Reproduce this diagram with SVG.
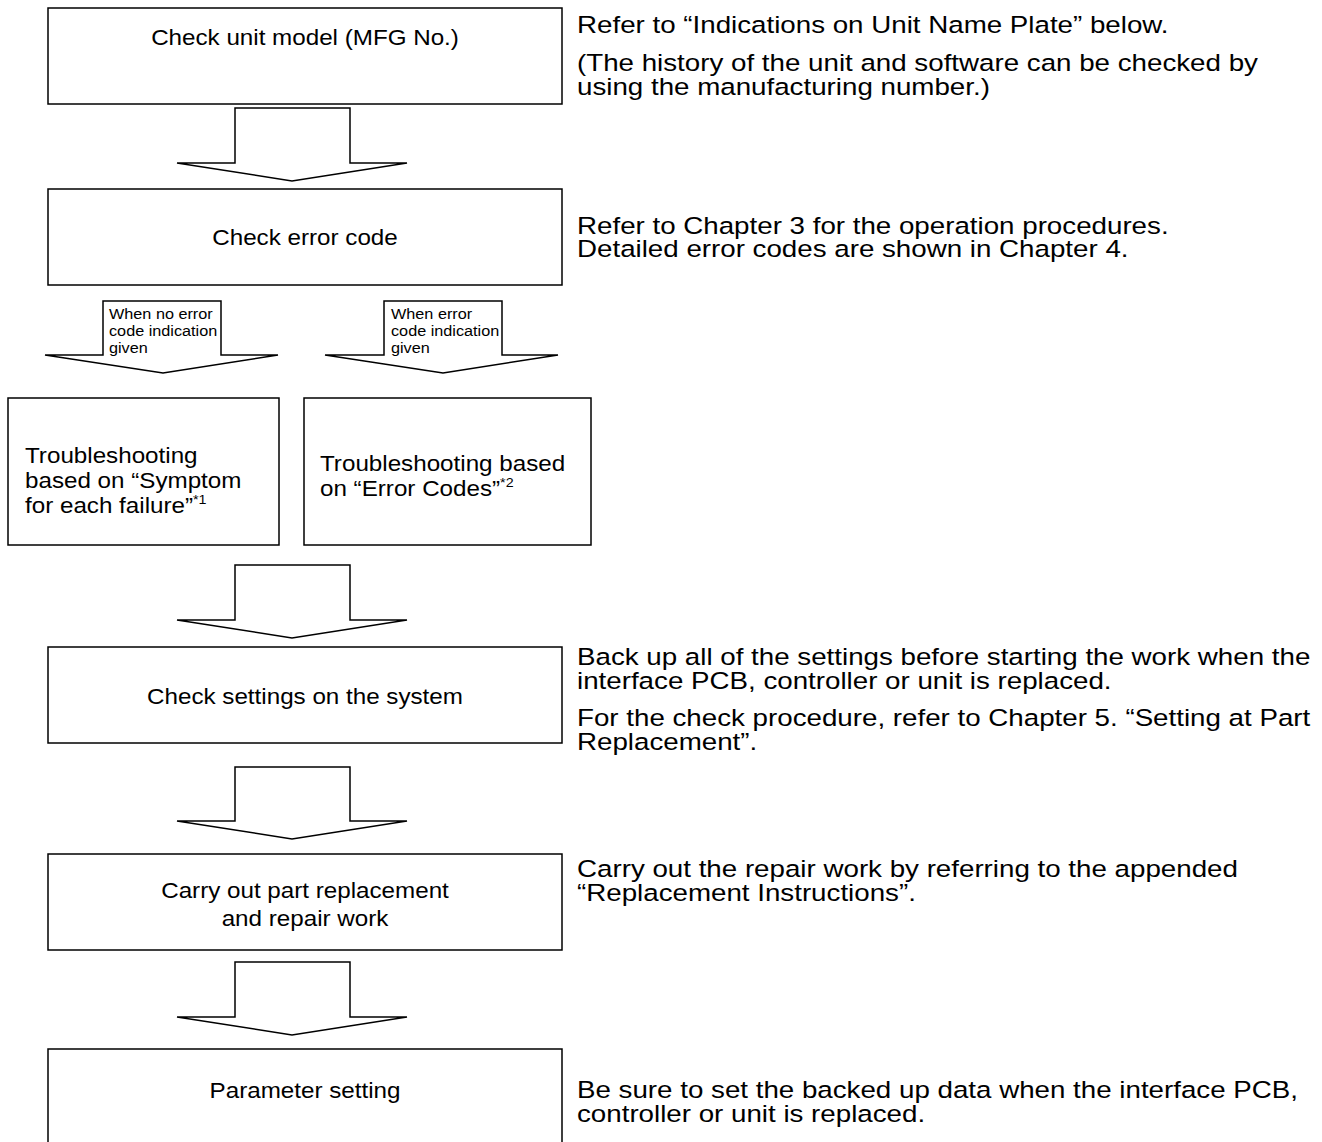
<svg xmlns="http://www.w3.org/2000/svg" width="1322" height="1142" viewBox="0 0 1322 1142">
<style>
.box{fill:#fff;stroke:#000;stroke-width:1.5}
.arr{fill:#fff;stroke:#000;stroke-width:1.5;stroke-linejoin:miter}
.t{font-family:"Liberation Sans",Arial,sans-serif;font-size:22px;fill:#000}
.n{font-family:"Liberation Sans",Arial,sans-serif;font-size:23.5px;fill:#000}
.c{text-anchor:middle}
.s{font-family:"Liberation Sans",Arial,sans-serif;font-size:14.5px;fill:#000}
.sup{font-size:13px}
</style>
<rect width="1322" height="1142" fill="#fff"/>
<g id="connectors">
<polygon class="arr" points="235,108 350,108 350,163 407,163 292,181 177,163 235,163"/>
<polygon class="arr" points="103,301 221,301 221,355 278,355 163,373 45,355 103,355"/>
<polygon class="arr" points="384,301 502,301 502,355 558,355 443,373 325,355 384,355"/>
<polygon class="arr" points="235,565 350,565 350,620 407,620 292,638 177,620 235,620"/>
<polygon class="arr" points="235,767 350,767 350,821 407,821 292,839 177,821 235,821"/>
<polygon class="arr" points="235,962 350,962 350,1017 407,1017 292,1035 177,1017 235,1017"/>
<text class="s" transform="translate(109,319) scale(1.12,1)">When no error</text>
<text class="s" transform="translate(109,336) scale(1.12,1)">code indication</text>
<text class="s" transform="translate(109,353) scale(1.12,1)">given</text>
<text class="s" transform="translate(391,319) scale(1.12,1)">When error</text>
<text class="s" transform="translate(391,336) scale(1.12,1)">code indication</text>
<text class="s" transform="translate(391,353) scale(1.12,1)">given</text>
</g>
<g id="n1"><rect class="box" x="48" y="8" width="514" height="96"/><text class="t c" transform="translate(305,45) scale(1.1,1)">Check unit model (MFG No.)</text></g>
<g id="n2"><rect class="box" x="48" y="189" width="514" height="96"/><text class="t c" transform="translate(305,245) scale(1.1,1)">Check error code</text></g>
<g id="n3a"><rect class="box" x="8" y="398" width="271" height="147"/>
<text class="t" transform="translate(25,463) scale(1.1,1)">Troubleshooting</text>
<text class="t" transform="translate(25,488) scale(1.1,1)">based on “Symptom</text>
<text class="t" transform="translate(25,513) scale(1.1,1)">for each failure”<tspan class="sup" dy="-9">*1</tspan></text></g>
<g id="n3b"><rect class="box" x="304" y="398" width="287" height="147"/>
<text class="t" transform="translate(320,471) scale(1.1,1)">Troubleshooting based</text>
<text class="t" transform="translate(320,496) scale(1.1,1)">on “Error Codes”<tspan class="sup" dy="-9">*2</tspan></text></g>
<g id="n4"><rect class="box" x="48" y="647" width="514" height="96"/><text class="t c" transform="translate(305,704) scale(1.1,1)">Check settings on the system</text></g>
<g id="n5"><rect class="box" x="48" y="854" width="514" height="96"/>
<text class="t c" transform="translate(305,898) scale(1.1,1)">Carry out part replacement</text>
<text class="t c" transform="translate(305,926) scale(1.1,1)">and repair work</text></g>
<g id="n6"><path class="box" d="M48,1150 V1049 H562 V1150"/><text class="t c" transform="translate(305,1098) scale(1.1,1)">Parameter setting</text></g>
<g id="notes">
<text class="n" transform="translate(577,33) scale(1.18,1)">Refer to “Indications on Unit Name Plate” below.</text>
<text class="n" transform="translate(577,71) scale(1.18,1)">(The history of the unit and software can be checked by</text>
<text class="n" transform="translate(577,95) scale(1.18,1)">using the manufacturing number.)</text>
<text class="n" transform="translate(577,234) scale(1.18,1)">Refer to Chapter 3 for the operation procedures.</text>
<text class="n" transform="translate(577,257) scale(1.18,1)">Detailed error codes are shown in Chapter 4.</text>
<text class="n" transform="translate(577,665) scale(1.18,1)">Back up all of the settings before starting the work when the</text>
<text class="n" transform="translate(577,689) scale(1.18,1)">interface PCB, controller or unit is replaced.</text>
<text class="n" transform="translate(577,726) scale(1.18,1)">For the check procedure, refer to Chapter 5. “Setting at Part</text>
<text class="n" transform="translate(577,750) scale(1.18,1)">Replacement”.</text>
<text class="n" transform="translate(577,877) scale(1.18,1)">Carry out the repair work by referring to the appended</text>
<text class="n" transform="translate(577,901) scale(1.18,1)">“Replacement Instructions”.</text>
<text class="n" transform="translate(577,1098) scale(1.18,1)">Be sure to set the backed up data when the interface PCB,</text>
<text class="n" transform="translate(577,1122) scale(1.18,1)">controller or unit is replaced.</text>
</g>
</svg>
